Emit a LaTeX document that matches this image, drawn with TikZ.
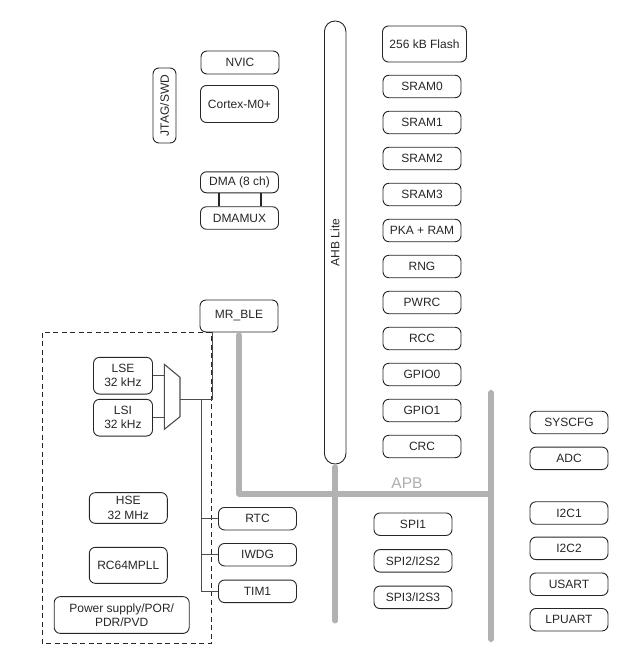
\documentclass[tikz,border=0pt]{standalone}
\usepackage{fontspec}
\setmainfont{Liberation Sans}
\usetikzlibrary{calc}

\begin{document}
\begin{tikzpicture}[x=1pt, y=-1pt,
    blk/.style={draw=black!85, text=black!85, rounded corners=6pt, line width=0.9pt, inner sep=0pt, align=center,
      minimum width=78pt, minimum height=22.5pt, font=\fontsize{12}{14.3}\selectfont},
    bus/.style={draw=black!30, line width=5.5pt, line cap=round, line join=round},
    wire/.style={draw=black!70, line width=1.1pt}]
      \useasboundingbox (0,0) rectangle (642,667);

      % low power domain
      \draw[black!85, line width=0.8pt, dash pattern=on 5pt off 3.5pt] (42.5,332.5) rectangle (211,643.5);

      \node[blk, rotate=90, minimum width=75pt, minimum height=23pt] (jtag) at (164.5,105.5) {JTAG/SWD};
      \node[blk, minimum height=23pt] (nvic) at (240,62.5) {NVIC};
      \node[blk, minimum height=37pt] (cortex) at (239.5,104) {Cortex-M0+};
      \node[blk, minimum height=21pt] (dma) at (239.5,182.3) {DMA (8 ch)};
      \node[blk] (dmamux) at (239.5,218) {DMAMUX};
      \node[blk, minimum height=32pt] (mrble) at (239,316) {MR\_BLE};

      \node[blk, rotate=90, rounded corners=10.5pt, minimum width=443pt, minimum height=21.5pt] (ahb) at (335.2,242.5) {AHB Lite};

      \node[blk, minimum width=84pt, minimum height=36pt] (flash) at (424.5,44) {256 kB Flash};
      \node[blk] (sram0) at (422,86.5) {SRAM0};
      \node[blk] (sram1) at (422,122.5) {SRAM1};
      \node[blk] (sram2) at (422,158.5) {SRAM2};
      \node[blk] (sram3) at (422,194.5) {SRAM3};
      \node[blk] (pka) at (422,230.5) {PKA + RAM};
      \node[blk] (rng) at (422,266.5) {RNG};
      \node[blk] (pwrc) at (422,302.5) {PWRC};
      \node[blk] (rcc) at (422,338.5) {RCC};
      \node[blk] (gpio0) at (422,374.5) {GPIO0};
      \node[blk] (gpio1) at (422,410.5) {GPIO1};
      \node[blk] (crc) at (422,446.5) {CRC};

      \node[blk, minimum width=59pt, minimum height=36.7pt] (lse) at (123,375.7) {LSE\\32 kHz};
      \node[blk, minimum width=59pt, minimum height=36.7pt] (lsi) at (123,417.7) {LSI\\32 kHz};
      \node[blk, minimum height=30.7pt] (hse) at (128.3,508) {HSE\\32 MHz};
      \node[blk, minimum height=36pt] (rcpll) at (128.3,565.3) {RC64MPLL};
      \node[blk, minimum width=135pt, minimum height=36.7pt] (pwr) at (121.7,615) {Power supply/POR/\\PDR/PVD};

      \node[blk] (rtc) at (257.5,518.7) {RTC};
      \node[blk] (iwdg) at (257.5,554.7) {IWDG};
      \node[blk] (tim1) at (257.5,591.3) {TIM1};

      \node[blk] (spi1) at (413,524.2) {SPI1};
      \node[blk] (spi2) at (413,560.8) {SPI2/I2S2};
      \node[blk] (spi3) at (413,597.3) {SPI3/I2S3};

      \node[blk] (syscfg) at (569,422.5) {SYSCFG};
      \node[blk] (adc) at (569,458.3) {ADC};
      \node[blk] (i2c1) at (569,513) {I2C1};
      \node[blk] (i2c2) at (569,548.3) {I2C2};
      \node[blk] (usart) at (569,584.2) {USART};
      \node[blk] (lpuart) at (569,619.7) {LPUART};

      \node[text=black!32, font=\fontsize{15.5}{17}\selectfont] (apb) at (407,483) {APB};

      % clock mux
      \coordinate (muxin) at (164.3,399.3);
      \coordinate (muxout) at (180,399.3);
      \coordinate (clk) at (212.7,399.3);
      \coordinate (trunk) at (201.3,399.3);
      \draw[wire] (164.3,364.3) -- (180,377.3) -- (180,416.7) -- (164.3,429.3) -- cycle;
      \draw[wire] (lse) -- (lse -| muxin);
      \draw[wire] (lsi) -- (lsi -| muxin);
      \draw[wire] (muxout) -- (clk) -- (clk |- mrble.south);
      \draw[wire] (trunk) |- (tim1);
      \draw[wire] (trunk |- rtc) -- (rtc);
      \draw[wire] (trunk |- iwdg) -- (iwdg);

      % dma links
      \draw[black!85, line width=2pt] ([xshift=19pt]dma.south west) -- ([xshift=19pt]dmamux.north west);
      \draw[black!85, line width=2pt] ([xshift=-18pt]dma.south east) -- ([xshift=-18pt]dmamux.north east);

      % buses
      \coordinate (apbr) at (491,494);
      \coordinate (apbtop) at (491,392.7);
      \coordinate (apbend) at (491,639.3);
      \coordinate (ahbend) at (335.7,620.7);
      \draw[bus, shorten <=2.75pt] (mrble.south) -- (mrble.south |- apbr) -- (apbr);
      \draw[bus] (apbtop) -- (apbend);
      \draw[bus, shorten <=2.75pt] (ahb.west) -- (ahb.west |- ahbend);
    \end{tikzpicture}
\end{document}
